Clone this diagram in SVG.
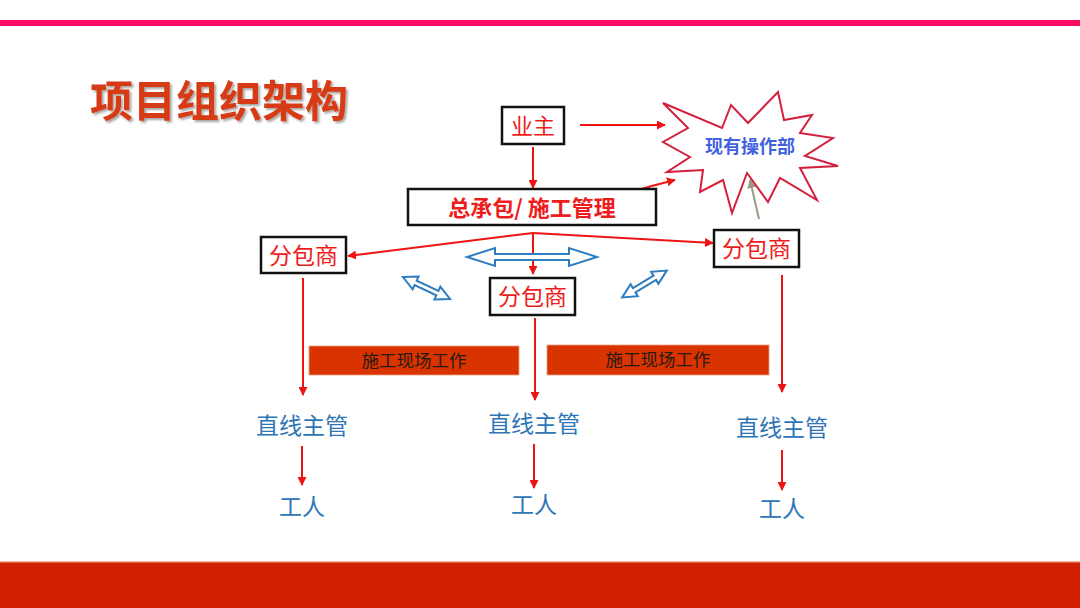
<svg xmlns="http://www.w3.org/2000/svg" width="1080" height="608" viewBox="0 0 1080 608">
<defs>
<marker id="ah" viewBox="0 0 10 10" refX="9" refY="5" markerWidth="4.5" markerHeight="4.5" orient="auto" markerUnits="strokeWidth"><path d="M0,0 L10,5 L0,10 Z" fill="#ee1414"/></marker>
<marker id="ahg" viewBox="0 0 10 10" refX="9" refY="5" markerWidth="4.5" markerHeight="4.5" orient="auto" markerUnits="strokeWidth"><path d="M0,0 L10,5 L0,10 Z" fill="#9a9a86"/></marker>
<filter id="sh" x="-5%" y="-10%" width="115%" height="130%"><feDropShadow dx="2" dy="2" stdDeviation="1.2" flood-color="#000" flood-opacity="0.35"/></filter>
</defs>
<style>
.box{fill:#fff;stroke:#111;stroke-width:2.5}
.rt{font-family:"Noto Sans CJK SC","Liberation Sans",sans-serif;fill:#ee1c1c;text-anchor:middle}
.bt{font-family:"Noto Sans CJK SC","Liberation Sans",sans-serif;fill:#2e75b6;text-anchor:middle;font-size:23px}
.ln{stroke:#ee1414;stroke-width:2;fill:none;marker-end:url(#ah)}
.da{fill:#fff;stroke:#2e7dc0;stroke-width:2;stroke-linejoin:miter}
.bar{fill:#d93300;stroke:#e8a080;stroke-width:0.8}
.bart{font-family:"Noto Sans CJK SC","Liberation Sans",sans-serif;fill:#2a1a14;text-anchor:middle;font-size:17.5px}
</style>
<rect x="0" y="0" width="1080" height="608" fill="#fff"/>
<rect x="0" y="20" width="1080" height="6" fill="#fc0c64"/>
<rect x="0" y="561" width="1080" height="47" fill="#d21f00"/>
<rect x="0" y="561" width="1080" height="1.5" fill="#f0b090"/>
<text x="90" y="117" font-family="Noto Sans CJK SC,Liberation Sans,sans-serif" font-weight="bold" font-size="43" fill="#d63b12" filter="url(#sh)">项目组织架构</text>

<g id="connectors">
<line class="ln" x1="580" y1="125" x2="665" y2="125"/>
<line class="ln" x1="533" y1="147" x2="533" y2="188"/>
<path class="ln" d="M628,193 Q650,186 675,180"/>
<line x1="759" y1="219" x2="750" y2="180" stroke="#9a9a86" stroke-width="2" marker-end="url(#ahg)"/>
<line class="ln" x1="533" y1="233" x2="348" y2="256"/>
<line class="ln" x1="533" y1="233" x2="713" y2="243"/>
<line class="ln" x1="533" y1="233" x2="533" y2="274"/>
<line class="ln" x1="303" y1="278" x2="303" y2="395"/>
<line class="ln" x1="535" y1="318" x2="535" y2="400"/>
<line class="ln" x1="782" y1="275" x2="782" y2="392"/>
<line class="ln" x1="302" y1="446" x2="302" y2="485"/>
<line class="ln" x1="534" y1="444" x2="534" y2="488"/>
<line class="ln" x1="782" y1="450" x2="782" y2="490"/>
<path class="da" transform="translate(532,257)" d="M-65,0 L-37,-9 L-37,-3 L37,-3 L37,-9 L65,0 L37,9 L37,3 L-37,3 L-37,9 Z"/>
<path class="da" transform="translate(426.5,288) rotate(25)" d="M-26,0 L-12,-7 L-12,-2.5 L12,-2.5 L12,-7 L26,0 L12,7 L12,2.5 L-12,2.5 L-12,7 Z"/>
<path class="da" transform="translate(644.5,284) rotate(-31)" d="M-26,0 L-12,-7 L-12,-2.5 L12,-2.5 L12,-7 L26,0 L12,7 L12,2.5 L-12,2.5 L-12,7 Z"/>
</g>

<g id="owner">
<rect class="box" x="502" y="107" width="62" height="37"/>
<text class="rt" x="533" y="134" font-size="22">业主</text>
</g>
<g id="star">
<polygon points="663,103 722,128 731,105 748,123 778,92 784,120 812,115 800,133 833,138 805,156 838,166 800,168 817,200 780,178 768,202 747,173 732,213 723,180 700,192 703,170 667,172 690,157 663,142 688,128" fill="#fff" stroke="#d4203c" stroke-width="2" stroke-linejoin="miter"/>
<text x="750" y="153" font-family="Noto Sans CJK SC,Liberation Sans,sans-serif" font-weight="bold" font-size="18" fill="#3f62e0" text-anchor="middle">现有操作部</text>
</g>
<g id="gc">
<rect class="box" x="408" y="189" width="248" height="36"/>
<text class="rt" x="532" y="216" font-size="22" font-weight="bold">总承包/ 施工管理</text>
</g>
<g id="sub-left">
<rect class="box" x="261" y="237" width="85" height="36"/>
<text class="rt" x="303.5" y="264" font-size="23">分包商</text>
</g>
<g id="sub-mid">
<rect class="box" x="490" y="278" width="85" height="37"/>
<text class="rt" x="532.5" y="305" font-size="23">分包商</text>
</g>
<g id="sub-right">
<rect class="box" x="714" y="230" width="85" height="37"/>
<text class="rt" x="756.5" y="257" font-size="23">分包商</text>
</g>
<g id="bar-left">
<rect class="bar" x="309" y="346" width="210" height="29"/>
<text class="bart" x="414" y="367">施工现场工作</text>
</g>
<g id="bar-right">
<rect class="bar" x="547" y="345" width="222" height="30"/>
<text class="bart" x="658" y="366">施工现场工作</text>
</g>
<g id="sup-left"><text class="bt" x="302" y="434">直线主管</text></g>
<g id="sup-mid"><text class="bt" x="534" y="432">直线主管</text></g>
<g id="sup-right"><text class="bt" x="782" y="436">直线主管</text></g>
<g id="w-left"><text class="bt" x="302" y="515">工人</text></g>
<g id="w-mid"><text class="bt" x="534" y="513">工人</text></g>
<g id="w-right"><text class="bt" x="782" y="517">工人</text></g>
</svg>
